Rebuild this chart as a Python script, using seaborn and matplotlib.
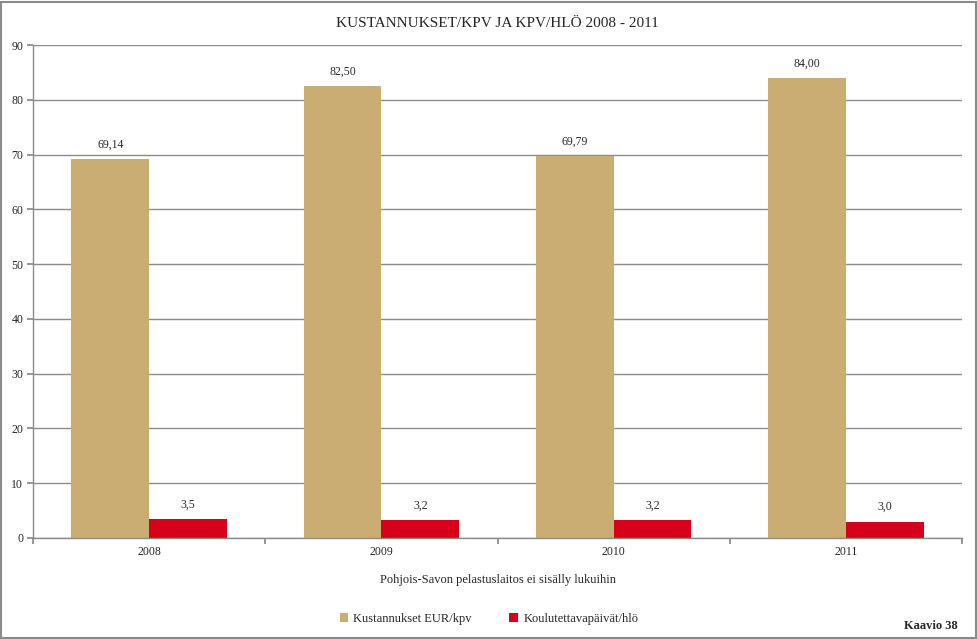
import matplotlib
matplotlib.use("Agg")
import matplotlib.pyplot as plt
import seaborn as sns
import pandas as pd
from matplotlib.patches import Rectangle

years = ["2008", "2009", "2010", "2011"]
kustannukset = [69.14, 82.50, 69.79, 84.00]
koulutus = [3.5, 3.2, 3.2, 3.0]
series_names = ["Kustannukset EUR/kpv", "Koulutettavapäivät/hlö"]
kust_labels = ["69,14", "82,50", "69,79", "84,00"]
koul_labels = ["3,5", "3,2", "3,2", "3,0"]
colors = ["#C9AD72", "#D7001A"]

sns.set_theme(style="white")
plt.rcParams['font.family'] = ['Liberation Serif', 'DejaVu Serif']

df = pd.DataFrame({
    "Vuosi": years * 2,
    "Arvo": kustannukset + koulutus,
    "Sarja": [series_names[0]] * 4 + [series_names[1]] * 4,
})

fig = plt.figure(figsize=(9.78, 6.39), dpi=100)
ax = fig.add_axes([33/978, 1 - 538/639, (962-33)/978, (538-45)/639])

sns.barplot(data=df, x="Vuosi", y="Arvo", hue="Sarja", palette=colors,
            width=0.67, ax=ax, saturation=1, legend=True, linewidth=0,
            edgecolor="none")

ax.set_ylim(0, 90)
ax.set_xlim(-0.5, 3.5)
ax.set_yticks(range(0, 91, 10))
ax.yaxis.grid(True, color="#8a8a8a", linewidth=1)
ax.set_axisbelow(True)
for s in ["top", "right"]:
    ax.spines[s].set_visible(False)
for s in ["left", "bottom"]:
    ax.spines[s].set_color("#8a8a8a")
    ax.spines[s].set_linewidth(1)

ax.tick_params(axis="y", which="major", length=4, color="#8a8a8a", left=True,
               labelsize=8.5, pad=3)
ax.set_xticks([-0.5, 0.5, 1.5, 2.5, 3.5])
ax.set_xticklabels([])
ax.set_xticks([0, 1, 2, 3], minor=True)
ax.set_xticklabels(years, minor=True)
ax.tick_params(axis="x", which="major", length=4, color="#8a8a8a", bottom=True)
ax.tick_params(axis="x", which="minor", length=0, labelsize=8.5, pad=6)

ax.set_ylabel("")
ax.set_xlabel("Pohjois-Savon pelastuslaitos ei sisälly lukuihin", fontsize=9, labelpad=11)

for cont, labs in zip(ax.containers, [kust_labels, koul_labels]):
    ax.bar_label(cont, labels=labs, padding=6, fontsize=8.5)

ax.set_title("KUSTANNUKSET/KPV JA KPV/HLÖ 2008 - 2011", fontsize=11, pad=13)

leg = ax.legend(loc="center", ncol=2,
                frameon=False, fontsize=9, handlelength=0.7, handleheight=0.7,
                columnspacing=3, handletextpad=0.4)
leg.set_bbox_to_anchor((0.5, 1 - 619/639), transform=fig.transFigure)

fig.text(958/978, 1 - 626/639, "Kaavio 38", fontsize=9, fontweight="bold",
         ha="right", va="center")

fig.patches.append(Rectangle((0.001, 0.0015), 0.997, 0.996, transform=fig.transFigure,
                             fill=False, edgecolor="#8a8a8a", linewidth=1.5))

fig.savefig("out.png", dpi=100)
